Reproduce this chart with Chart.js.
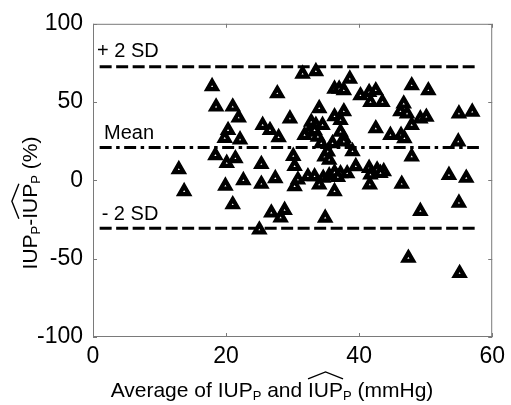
<!DOCTYPE html>
<html>
<head>
<meta charset="utf-8">
<script src="https://cdn.jsdelivr.net/npm/chart.js@4.4.0/dist/chart.umd.min.js"></script>
<style>
  html, body { margin: 0; padding: 0; background: #fff; }
</style>
</head>
<body>
<canvas id="chBland" width="511" height="405"></canvas>
<script>
// Bland-Altman values
// x: average of the two pressures (mmHg), y: difference (%)
const avgVals = [
  12.9, 13.7, 17.9, 18.5, 21.0, 21.9, 20.3, 19.8, 22.1, 18.4,
  21.4, 20.1, 19.9, 22.6, 25.3, 27.4, 21.0, 25.0, 26.8, 28.8,
  28.2, 25.5, 26.6, 27.9, 27.7, 29.6, 25.3, 30.1, 30.3, 30.3,
  30.8, 32.3, 33.3, 34.0, 34.6, 35.5, 36.3, 37.2, 38.2, 36.8,
  36.3, 34.9, 31.5, 33.5, 36.3, 37.0, 37.7, 38.6, 40.2, 34.0,
  32.8, 33.5, 34.5, 36.3, 37.7, 37.2, 32.5, 31.8, 33.3, 33.8,
  37.2, 37.7, 36.0, 37.7, 39.0, 34.3, 34.8, 35.3, 35.5, 39.5,
  41.5, 42.5, 41.7, 43.5, 47.9, 50.4, 46.7, 46.2, 47.2, 49.2,
  50.1, 47.9, 55.0, 57.0, 42.5, 44.7, 46.3, 46.8, 54.9, 47.9,
  41.5, 42.7, 43.7, 41.7, 43.2, 41.6, 46.4, 53.5, 56.1, 49.2,
  55.0, 47.4, 55.1
];
const diffVals = [
  7, -7, 60, 47, 47, 40, 32, 27, 26, 16,
  14, 11, -3.5, 0, -2.3, 1.3, -15.4, -31.5, -20.7, -19,
  -23.8, 35.3, 32, 27.5, 55.5, 39.4, 10.3, 15.5, 9, -3.8,
  0.4, 2.5, 2.5, -2.7, 1.5, 3, 5, 4.4, 4.4, 2,
  -7, -23.9, 68, 69.6, 58.4, 58.4, 57.4, 64.8, 54.2, 46,
  37.3, 35.3, 35.3, 40.8, 44, 38.4, 31, 28.9, 32, 27.8,
  31, 26.8, 23.6, 24.7, 18.5, 23.6, 15.2, 18.4, 13.1, 8.9,
  56.3, 57.4, 50, 50, 60.6, 57.4, 48.9, 44, 42.6, 39.4,
  40.5, 35.3, 42.6, 43.7, 33.1, 28.9, 28.9, 26.8, 24.7, 15.2,
  7.8, 6.8, 5.7, 3.6, 4.6, -2.7, -2.3, 3.4, 1.5, -19.6,
  -14.4, -49.6, -59.3
];
const meanDiff = 21;
const upperLimit = 72.5;
const lowerLimit = -30.5;
const limitSpan = [1, 58];
const limitLabels = ['+ 2 SD', 'Mean', '- 2 SD'];

const fontFam = '"Liberation Sans", Arial, Helvetica, sans-serif';
const boxColor = '#7a7a7a';

let points = avgVals.map((v, i) => ({ x: v, y: diffVals[i] }));

function hLine(yv) {
  return [{ x: limitSpan[0], y: yv }, { x: limitSpan[1], y: yv }];
}

// text with subscripts and hats, drawn on the baseline at (0,0)
function richWidth(ctx, parts, size) {
  let w = 0;
  parts.forEach(p => {
    ctx.font = (p.sub ? Math.round(size * 0.62) : size) + 'px ' + fontFam;
    w += ctx.measureText(p.t).width;
  });
  return w;
}

function drawRich(ctx, parts, size, x0) {
  let x = x0;
  parts.forEach(p => {
    let fs = p.sub ? Math.round(size * 0.62) : size;
    ctx.font = fs + 'px ' + fontFam;
    let w = ctx.measureText(p.t).width;
    ctx.fillText(p.t, x, p.sub ? 3 : 0);
    if (p.hat) {
      let capTop = -size * 0.72;
      ctx.beginPath();
      ctx.lineWidth = 1.4;
      ctx.moveTo(x, capTop - 3);
      ctx.lineTo(x + w / 2, capTop - 10);
      ctx.lineTo(x + w, capTop - 3);
      ctx.stroke();
    }
    x += w;
  });
}

const xTitle = [
  { t: 'Average of IUP' }, { t: 'P', sub: true }, { t: ' and ' },
  { t: 'IUP', hat: true }, { t: 'P', sub: true }, { t: ' (mmHg)' }
];
const yTitle = [
  { t: 'IUP' }, { t: 'P', sub: true }, { t: '-' },
  { t: 'IUP', hat: true }, { t: 'P', sub: true }, { t: ' (%)' }
];

const framePlugin = {
  id: 'frame',
  afterDraw(chart) {
    const ctx = chart.ctx;
    const a = chart.chartArea;
    const xs = chart.scales.x;
    const ys = chart.scales.y;
    ctx.save();
    // box
    ctx.strokeStyle = boxColor;
    ctx.lineWidth = 1;
    ctx.strokeRect(a.left + 0.5, a.top + 0.5, a.right - a.left - 1, a.bottom - a.top - 1);
    // inward ticks
    ctx.beginPath();
    xs.ticks.forEach(t => {
      let px = Math.round(xs.getPixelForValue(t.value)) + 0.5;
      ctx.moveTo(px, a.bottom); ctx.lineTo(px, a.bottom - 4);
      ctx.moveTo(px, a.top); ctx.lineTo(px, a.top + 4);
    });
    ys.ticks.forEach(t => {
      let py = Math.round(ys.getPixelForValue(t.value)) + 0.5;
      ctx.moveTo(a.left, py); ctx.lineTo(a.left + 4, py);
      ctx.moveTo(a.right, py); ctx.lineTo(a.right - 4, py);
    });
    ctx.stroke();

    // limit labels
    ctx.fillStyle = '#000';
    ctx.strokeStyle = '#000';
    ctx.font = '20px ' + fontFam;
    ctx.textBaseline = 'alphabetic';
    ctx.fillText(limitLabels[0], xs.getPixelForValue(0.6), ys.getPixelForValue(upperLimit) - 10);
    ctx.fillText(limitLabels[1], xs.getPixelForValue(1.65), ys.getPixelForValue(meanDiff) - 9);
    ctx.fillText(limitLabels[2], xs.getPixelForValue(1.3), ys.getPixelForValue(lowerLimit) - 8);

    // axis titles
    let sz = 21;
    let wx = richWidth(ctx, xTitle, sz);
    ctx.save();
    ctx.translate(272, 397);
    drawRich(ctx, xTitle, sz, -wx / 2);
    ctx.restore();

    let wy = richWidth(ctx, yTitle, sz);
    ctx.save();
    ctx.translate(37, 203);
    ctx.rotate(-Math.PI / 2);
    drawRich(ctx, yTitle, sz, -wy / 2);
    ctx.restore();

    ctx.restore();
  }
};

new Chart(document.getElementById('chBland'), {
  type: 'scatter',
  data: {
    datasets: [
      {
        label: 'points',
        data: points,
        pointStyle: 'triangle',
        pointRadius: 5.4,
        pointHoverRadius: 5.4,
        pointBorderWidth: 4.2,
        pointBackgroundColor: '#fff',
        pointBorderColor: '#000',
        order: 1
      },
      {
        label: 'upper',
        data: hLine(upperLimit),
        showLine: true,
        borderColor: '#000',
        borderWidth: 3,
        borderDash: [12, 4.5],
        pointRadius: 0,
        order: 2
      },
      {
        label: 'mean',
        data: hLine(meanDiff),
        showLine: true,
        borderColor: '#000',
        borderWidth: 3,
        borderDash: [12, 4.5, 3.5, 4.5],
        pointRadius: 0,
        order: 2
      },
      {
        label: 'lower',
        data: hLine(lowerLimit),
        showLine: true,
        borderColor: '#000',
        borderWidth: 3,
        borderDash: [12, 4.5],
        pointRadius: 0,
        order: 2
      }
    ]
  },
  options: {
    responsive: false,
    animation: false,
    layout: { padding: { left: 0, right: 15, top: 21, bottom: 0 } },
    plugins: {
      legend: { display: false },
      tooltip: { enabled: false }
    },
    scales: {
      x: {
        type: 'linear',
        min: 0, max: 60,
        border: { display: false },
        grid: { display: false, drawTicks: false },
        ticks: { stepSize: 20, color: '#000', padding: 6, font: { size: 23, family: fontFam } },
        afterFit(scale) { scale.height = 68; }
      },
      y: {
        type: 'linear',
        min: -100, max: 100,
        border: { display: false },
        grid: { display: false, drawTicks: false },
        ticks: { stepSize: 50, color: '#000', padding: 10, font: { size: 23, family: fontFam } },
        afterFit(scale) { scale.width = 93; }
      }
    }
  },
  plugins: [framePlugin]
});
</script>
</body>
</html>
